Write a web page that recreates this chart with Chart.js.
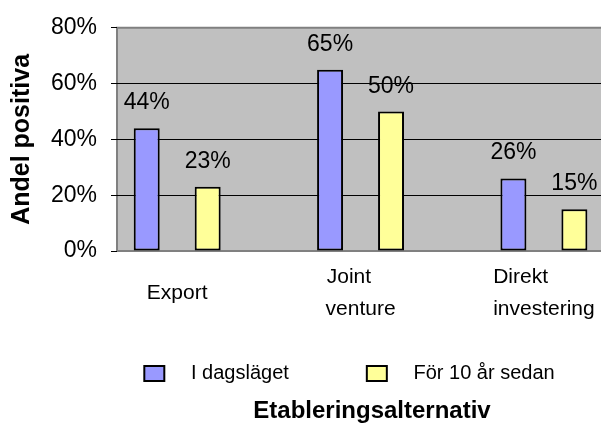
<!DOCTYPE html>
<html>
<head>
<meta charset="utf-8">
<script src="https://cdn.jsdelivr.net/npm/chart.js@4.4.1/dist/chart.umd.min.js"></script>
<style>
  html, body { margin: 0; padding: 0; background: #fff; }
  #wrap { width: 601px; height: 425px; position: relative; }
</style>
</head>
<body>
<div id="wrap"><canvas id="chart"></canvas></div>
<script>
// data
const categories = ["Export", "Joint venture", "Direkt investering"];
// left-aligned look for the two-line labels (padded first line)
const categoryTickLabels = [["Export"], ["Joint    ", "venture"], ["Direkt        ", "investering"]];
const seriesNames = ["I dagsläget", "För 10 år sedan"];
const todayValues = [44, 65, 26];
const tenYearsAgoValues = [23, 50, 15];
const yTickValues = [0, 20, 40, 60, 80];

const FONT = "'Liberation Sans', Arial, sans-serif";
Chart.defaults.font.family = FONT;
Chart.defaults.color = "#000";

const toPoints = vals => vals.map((v, i) => ({ x: i, y: v }));

// gray plot background + frame
const plotBackground = {
    id: "plotBackground",
    beforeDraw(chart) {
        const { ctx, chartArea: a } = chart;
        ctx.save();
        ctx.fillStyle = "#C0C0C0";
        ctx.fillRect(a.left, a.top, a.right - a.left, a.bottom - a.top);
        ctx.strokeStyle = "#808080";
        ctx.lineWidth = 2;
        ctx.beginPath();
        ctx.moveTo(a.right + 2, a.top);
        ctx.lineTo(a.left, a.top);
        ctx.lineTo(a.left, a.bottom);
        ctx.lineTo(a.right + 2, a.bottom);
        ctx.stroke();
        ctx.restore();
    }
};

// value labels above bars
const barValueLabels = {
    id: "barValueLabels",
    afterDatasetsDraw(chart) {
        const { ctx } = chart;
        ctx.save();
        ctx.font = "23px " + FONT;
        ctx.fillStyle = "#000";
        ctx.textAlign = "center";
        ctx.textBaseline = "alphabetic";
        chart.data.datasets.forEach((ds, di) => {
            chart.getDatasetMeta(di).data.forEach((bar, i) => {
                ctx.fillText(ds.data[i].y + "%", bar.x, bar.y - 19);
            });
        });
        ctx.restore();
    }
};

// legend / title sit right of canvas centre in the original
const boxShift = {
    id: "boxShift",
    afterLayout(chart) {
        const lg = chart.legend;
        lg.left += 49;
        lg.right += 49;
        lg.top -= 78;     // legend is capped by maxHeight, items start after padding
        chart.titleBlock.left += 13;
        chart.titleBlock.right += 13;
    }
};

new Chart(document.getElementById("chart"), {
    type: "bar",
    data: {
        datasets: [
            {
                label: seriesNames[0],
                data: toPoints(todayValues),
                backgroundColor: "#9999FF",
                borderColor: "#000",
                borderWidth: 2,
                borderSkipped: false
            },
            {
                label: seriesNames[1],
                data: toPoints(tenYearsAgoValues),
                backgroundColor: "#FFFF99",
                borderColor: "#000",
                borderWidth: 2,
                borderSkipped: false
            }
        ]
    },
    plugins: [plotBackground, barValueLabels, boxShift],
    options: {
        responsive: true,
        maintainAspectRatio: false,
        animation: false,
        categoryPercentage: 0.665,
        barPercentage: 0.426,
        layout: { padding: { top: 24, left: 0, right: 0, bottom: 0 } },
        scales: {
            x: {
                type: "linear",
                offset: false,
                min: -0.3283,
                max: 2.3114,
                afterBuildTicks: scale => {
                    scale.ticks = categories.map((c, i) => ({ value: i }));
                },
                afterFit: scale => {
                    scale.height = 112.6;
                    scale.paddingLeft = 0;
                    scale.paddingRight = 0;
                },
                grid: { display: false, drawTicks: false, offset: false },
                border: { display: false },
                ticks: {
                    autoSkip: false,
                    maxRotation: 0,
                    padding: 26,
                    crossAlign: "center",
                    font: { size: 21, lineHeight: 1.52 },
                    callback: v => categoryTickLabels[v]
                }
            },
            y: {
                min: 0,
                max: 80,
                afterBuildTicks: scale => {
                    scale.ticks = yTickValues.map(v => ({ value: v }));
                },
                afterFit: scale => { scale.width = 117; },
                border: { display: false },
                grid: {
                    color: c => (c.tick && (c.tick.value === 0 || c.tick.value === 80)) ? "rgba(0,0,0,0)" : "#000",
                    tickColor: "#000",
                    tickLength: 6,
                    lineWidth: 1
                },
                ticks: {
                    padding: 14,
                    font: { size: 23 },
                    callback: v => v + "%"
                },
                title: {
                    display: true,
                    text: "Andel positiva",
                    font: { size: 25, weight: "bold", lineHeight: 1.2 },
                    padding: { top: 7, bottom: 0 }
                }
            }
        },
        plugins: {
            tooltip: { enabled: false },
            legend: {
                position: "bottom",
                maxHeight: 30,
                labels: {
                    boxWidth: 20,
                    boxHeight: 15,
                    padding: 78,
                    font: { size: 20 },
                    generateLabels: chart => {
                        const items = Chart.defaults.plugins.legend.labels.generateLabels(chart);
                        return items.map(it => Object.assign(it, { text: "   " + it.text }));
                    }
                }
            },
            title: {
                display: true,
                fullSize: false,
                position: "bottom",
                text: "Etableringsalternativ",
                font: { size: 24, weight: "bold", lineHeight: 1.1 },
                padding: { top: 5, bottom: 0 }
            }
        }
    }
});
</script>
</body>
</html>
